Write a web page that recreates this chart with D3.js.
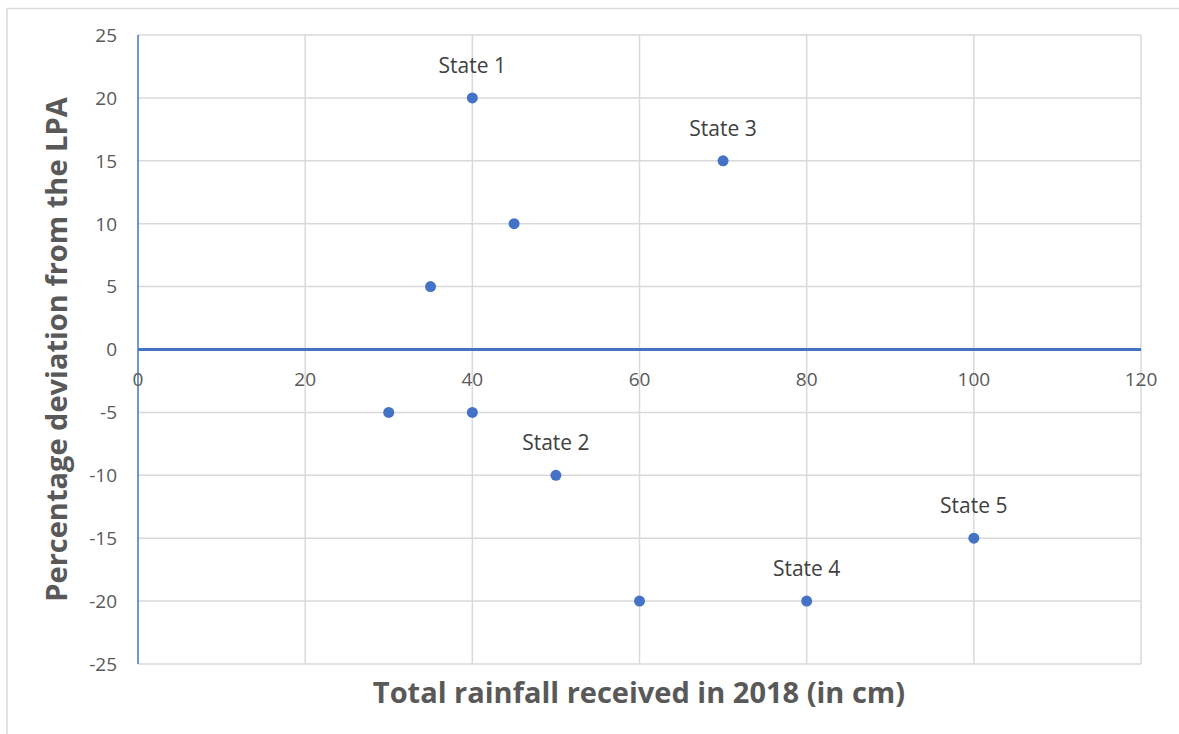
<!DOCTYPE html>
<html><head><meta charset="utf-8">
<script src="https://cdn.jsdelivr.net/npm/d3@7"></script>
<style>body{margin:0;background:#fff}svg{display:block}</style>
</head><body>
<svg id="c" width="1179" height="734"></svg>
<script>
const xValues = [40, 70, 45, 35, 30, 40, 50, 60, 80, 100];
const yValues = [20, 15, 10, 5, -5, -5, -10, -20, -20, -15];
const pointLabels = ["State 1", "State 3", "", "", "", "", "State 2", "", "State 4", "State 5"];
const xTicks = [0, 20, 40, 60, 80, 100, 120];
const yTicks = [25, 20, 15, 10, 5, 0, -5, -10, -15, -20, -25];
const xTitle = "Total rainfall received in 2018 (in cm)";
const yTitle = "Percentage deviation from the LPA";

const font = "'Open Sans', Lato, sans-serif";
const svg = d3.select("#c");
const L = 138, R = 1141, T = 35, B = 664;
const x = d3.scaleLinear().domain([0, 120]).range([L, R]);
const y = d3.scaleLinear().domain([-25, 25]).range([B, T]);

// outer frame
svg.append("rect").attr("x", 7).attr("y", 8.5).attr("width", 1190).attr("height", 760)
  .attr("fill", "#fff").attr("stroke", "#d9d9d9").attr("stroke-width", 1.5);

// gridlines
svg.append("g").selectAll("line").data(yTicks).join("line")
  .attr("x1", L).attr("x2", R).attr("y1", d => y(d)).attr("y2", d => y(d))
  .attr("stroke", "#d9d9d9").attr("stroke-width", 1.5);
svg.append("g").selectAll("line").data(xTicks.filter(d => d > 0)).join("line")
  .attr("x1", d => x(d)).attr("x2", d => x(d)).attr("y1", T).attr("y2", B)
  .attr("stroke", "#d9d9d9").attr("stroke-width", 1.5);

// y axis line
svg.append("line").attr("x1", x(0)).attr("x2", x(0)).attr("y1", T).attr("y2", B)
  .attr("stroke", "#4472c4").attr("stroke-width", 1.5);
// zero line
svg.append("line").attr("x1", x(0)).attr("x2", R).attr("y1", y(0)).attr("y2", y(0))
  .attr("stroke", "#4472c4").attr("stroke-width", 3);

// y tick labels
svg.append("g").selectAll("text").data(yTicks).join("text")
  .attr("x", 117).attr("y", d => y(d)).attr("dy", "0.36em")
  .attr("text-anchor", "end").attr("font-family", font).attr("font-size", 19)
  .attr("fill", "#595959").text(d => d);
// x tick labels
svg.append("g").selectAll("text").data(xTicks).join("text")
  .attr("x", d => x(d)).attr("y", y(0) + 36).attr("text-anchor", "middle")
  .attr("font-family", font).attr("font-size", 19).attr("fill", "#595959").text(d => d);

// points
const pts = xValues.map((v, i) => ({x: v, y: yValues[i], label: pointLabels[i]}));
svg.append("g").selectAll("circle").data(pts).join("circle")
  .attr("cx", d => x(d.x)).attr("cy", d => y(d.y)).attr("r", 5.5).attr("fill", "#4472c4");
svg.append("g").selectAll("text").data(pts.filter(d => d.label)).join("text")
  .attr("x", d => x(d.x)).attr("y", d => y(d.y) - 25).attr("text-anchor", "middle")
  .attr("font-family", font).attr("font-size", 21).attr("fill", "#404040").text(d => d.label);

// axis titles
svg.append("text").attr("x", 639).attr("y", 703).attr("text-anchor", "middle")
  .attr("font-family", font).attr("font-size", 29).attr("font-weight", "bold")
  .attr("fill", "#595959").text(xTitle);
svg.append("text").attr("transform", `translate(67,${(T + B) / 2}) rotate(-90)`)
  .attr("text-anchor", "middle").attr("font-family", font).attr("font-size", 29)
  .attr("font-weight", "bold").attr("fill", "#595959").text(yTitle);
</script>
</body></html>
